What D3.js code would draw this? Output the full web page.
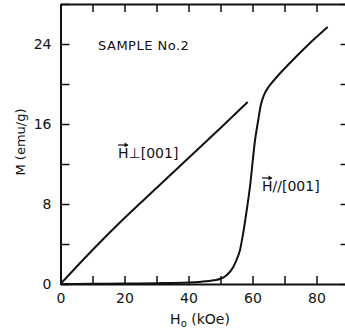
<!DOCTYPE html>
<html>
<head>
<meta charset="utf-8">
<script src="https://cdn.jsdelivr.net/npm/d3@7"></script>
<style>
  body { margin: 0; background: #fff; }
  svg { display: block; }
  text { font-family: "DejaVu Sans", sans-serif; fill: #111; }
</style>
</head>
<body>
<div id="chart"></div>
<script>
// data: field H (kOe) vs magnetisation M (emu/g)
const perpH = [0, 10, 20, 30, 40, 50, 58.5];
const perpM = [0, 3.4, 6.6, 9.6, 12.6, 15.6, 18.2];
const paraH = [0, 10, 20, 30, 40, 44, 48, 50, 52, 54, 55, 56.1, 57.1, 58.2, 59.2, 60.8, 61.8, 62.6, 63.6, 65, 66.5, 71.7, 77, 83.5];
const paraM = [0, 0.02, 0.05, 0.08, 0.15, 0.23, 0.38, 0.52, 0.9, 1.7, 2.4, 3.4, 5.1, 7.4, 9.7, 14.4, 16.4, 17.9, 18.9, 19.7, 20.3, 22.1, 23.8, 25.7];
const xTicks = [0, 10, 20, 30, 40, 50, 60, 70, 80, 90];
const yTicks = [0, 4, 8, 12, 16, 20, 24, 28];

const W = 345, H = 329;

const svg = d3.select("#chart")
    .append("svg")
    .attr("width", W)
    .attr("height", H);

const x = d3.scaleLinear().domain([0, 90]).range([60.5, 348.5]);
const y = d3.scaleLinear().domain([0, 28]).range([284, 4]);

// axes, ticks pointing inward
function styleAxis(g) {
    g.select(".domain").attr("stroke", "#111").attr("stroke-width", 2);
    g.selectAll(".tick line").attr("stroke", "#111").attr("stroke-width", 1.5);
    g.selectAll(".tick text").style("font-size", "14px").attr("fill", "#111");
}

svg.append("g")
    .attr("transform", `translate(0,${y(0)})`)
    .call(d3.axisBottom(x).tickValues(xTicks).tickSizeInner(-8).tickSizeOuter(0).tickPadding(9)
        .tickFormat(d => d % 20 === 0 && d < 90 ? d : ""))
    .call(styleAxis);

svg.append("g")
    .attr("transform", `translate(${x(0)},0)`)
    .call(d3.axisLeft(y).tickValues(yTicks).tickSizeInner(-9).tickSizeOuter(0).tickPadding(9)
        .tickFormat(d => d % 8 === 0 && d < 28 ? d : ""))
    .call(styleAxis);

svg.append("g")
    .attr("transform", `translate(0,${y(28)})`)
    .call(d3.axisTop(x).tickValues(xTicks).tickSizeInner(-8).tickSizeOuter(0).tickFormat(""))
    .call(styleAxis);

svg.append("g")
    .attr("transform", `translate(${x(90)},0)`)
    .call(d3.axisRight(y).tickValues(yTicks).tickSizeInner(-8).tickSizeOuter(0).tickFormat(""))
    .call(styleAxis);

// curves
const line = d3.line()
    .x(d => x(d[0]))
    .y(d => y(d[1]))
    .curve(d3.curveMonotoneX);

svg.append("path")
    .datum(perpH.map((h, i) => [h, perpM[i]]))
    .attr("d", line)
    .attr("fill", "none")
    .attr("stroke", "#111")
    .attr("stroke-width", 2);

svg.append("path")
    .datum(paraH.map((h, i) => [h, paraM[i]]))
    .attr("d", line)
    .attr("fill", "none")
    .attr("stroke", "#111")
    .attr("stroke-width", 2);

// axis titles
const xt = svg.append("text")
    .attr("x", 200)
    .attr("y", 324)
    .attr("text-anchor", "middle")
    .style("font-size", "14px");
xt.append("tspan").text("H");
xt.append("tspan").attr("dy", 3).style("font-size", "10px").text("o");
xt.append("tspan").attr("dy", -3).text(" (kOe)");

svg.append("text")
    .attr("transform", "translate(25,142) rotate(-90)")
    .attr("text-anchor", "middle")
    .style("font-size", "13px")
    .text("M (emu/g)");

svg.append("text")
    .attr("x", 98)
    .attr("y", 49.5)
    .style("font-size", "13px")
    .style("letter-spacing", "0.5px")
    .text("SAMPLE No.2");

// curve labels with a vector arrow over the H
function vecLabel(px, py, rest) {
    const g = svg.append("g");
    const h = g.append("text").attr("x", px).attr("y", py).style("font-size", "14px").text("H");
    const hw = h.node().getComputedTextLength();
    g.append("text").attr("x", px + hw).attr("y", py).style("font-size", "14px").text(rest);
    const ay = py - 13;
    g.append("line")
        .attr("x1", px).attr("x2", px + hw - 1)
        .attr("y1", ay).attr("y2", ay)
        .attr("stroke", "#111").attr("stroke-width", 1.2);
    g.append("path")
        .attr("d", `M${px + hw - 4},${ay - 2.5} L${px + hw},${ay} L${px + hw - 4},${ay + 2.5} Z`)
        .attr("fill", "#111");
}

vecLabel(118, 158, "\u22A5[001]");
vecLabel(262, 191, "//[001]");
</script>
</body>
</html>
